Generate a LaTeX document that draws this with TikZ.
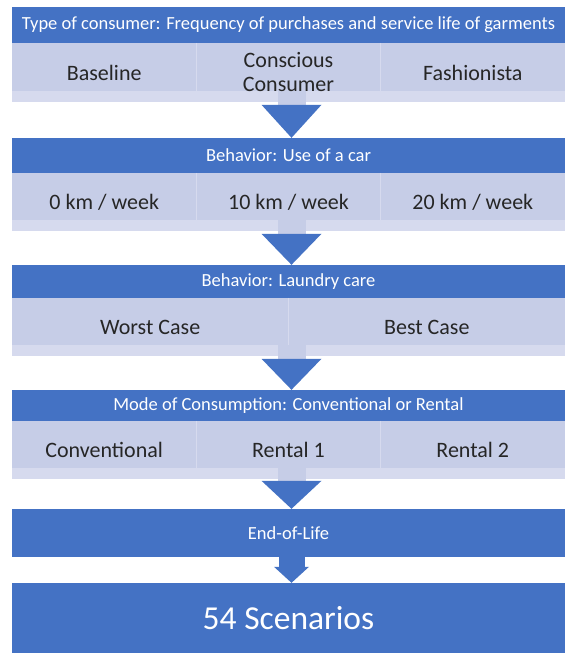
\documentclass[tikz,border=0pt]{standalone}
\usepackage{fontspec}
\setmainfont{Carlito}
\usetikzlibrary{calc}

\definecolor{barblue}{HTML}{4472C4}
\definecolor{cellblue}{HTML}{C6CDE7}
\definecolor{stripblue}{HTML}{D6DAEE}

\tikzset{
  hdr/.style={fill=barblue, text=white, minimum width=553pt, inner sep=0pt,
    font=\fontsize{18.5}{22}\selectfont},
  rowbox/.style={fill=cellblue, minimum width=553pt, inner sep=0pt,
    path picture={\fill[stripblue] ([yshift=11pt]path picture bounding box.south west)
      rectangle (path picture bounding box.south east);}},
  sepline/.style={draw=stripblue, line width=1pt},
  celltext/.style={text=black!85, align=center, inner sep=0pt,
    font=\fontsize{22}{24}\selectfont},
}

\begin{document}
\begin{tikzpicture}[x=1pt,y=-1pt]
  \useasboundingbox (0,0) rectangle (568,653);
  \fill[white] (0,0) rectangle (568,653);

  % bands
  \node[hdr, minimum height=36pt] (hdr1) at (288.5,25) {Type of consumer: Frequency of purchases and service life of garments};
  \node[rowbox, minimum height=59pt] (row1) at (288.5,72.5) {};
  \node[hdr, minimum height=35pt] (hdr2) at (288.5,155.5) {Behavior: Use of a car};
  \node[rowbox, minimum height=58pt] (row2) at (288.5,202) {};
  \node[hdr, minimum height=33pt] (hdr3) at (288.5,281.5) {Behavior: Laundry care};
  \node[rowbox, minimum height=58pt] (row3) at (288.5,327) {};
  \node[hdr, minimum height=31pt] (hdr4) at (288.5,405.5) {Mode of Consumption: Conventional or Rental};
  \node[rowbox, minimum height=58pt] (row4) at (288.5,450) {};
  \node[hdr, minimum height=48pt] (hdr5) at (288.5,533) {End-of-Life};
  \node[hdr, minimum height=70pt, font=\fontsize{33.5}{40}\selectfont] (final) at (288.5,618) {54 Scenarios};

  % column borders
  \foreach \r in {row1,row2,row4}{
    \draw[sepline] ($(\r.north west)!1/3!(\r.north east)$) -- ($(\r.south west)!1/3!(\r.south east)$);
    \draw[sepline] ($(\r.north west)!2/3!(\r.north east)$) -- ($(\r.south west)!2/3!(\r.south east)$);
  }
  \draw[sepline] (row3.north) -- (row3.south);

  % block arrows
  \fill[cellblue] ($(row1.south)+(-11,-11)$) rectangle ($(row1.south)+(17,3)$);
  \fill[barblue] ($(hdr2.north)+(-27,-33)$) -- ($(hdr2.north)+(33,-33)$) -- ($(hdr2.north)+(3,0)$) -- cycle;
  \fill[cellblue] ($(row2.south)+(-11,-11)$) rectangle ($(row2.south)+(17,3)$);
  \fill[barblue] ($(hdr3.north)+(-27,-31)$) -- ($(hdr3.north)+(33,-31)$) -- ($(hdr3.north)+(3,0)$) -- cycle;
  \fill[cellblue] ($(row3.south)+(-11,-11)$) rectangle ($(row3.south)+(17,3)$);
  \fill[barblue] ($(hdr4.north)+(-27,-31)$) -- ($(hdr4.north)+(33,-31)$) -- ($(hdr4.north)+(3,0)$) -- cycle;
  \fill[cellblue] ($(row4.south)+(-11,-12)$) rectangle ($(row4.south)+(17,2)$);
  \fill[barblue] ($(hdr5.north)+(-27,-28)$) -- ($(hdr5.north)+(33,-28)$) -- ($(hdr5.north)+(3,0)$) -- cycle;
  \fill[barblue] ($(hdr5.south)+(-10,0)$) rectangle ($(hdr5.south)+(16,10)$);
  \fill[barblue] ($(final.north)+(-14.5,-16)$) -- ($(final.north)+(20.5,-16)$) -- ($(final.north)+(3,0)$) -- cycle;

  % row texts
  \node[celltext] (baseline) at (104.2,72.5) {Baseline};
  \node[celltext] (conscious) at (288.5,72.5) {Conscious\\Consumer};
  \node[celltext] (fashion) at (472.8,72.5) {Fashionista};
  \node[celltext] (km0) at (104.2,202) {0 km / week};
  \node[celltext] (km10) at (288.5,202) {10 km / week};
  \node[celltext] (km20) at (472.8,202) {20 km / week};
  \node[celltext] (worst) at (150.2,327) {Worst Case};
  \node[celltext] (best) at (426.8,327) {Best Case};
  \node[celltext] (conv) at (104.2,450) {Conventional};
  \node[celltext] (rent1) at (288.5,450) {Rental 1};
  \node[celltext] (rent2) at (472.8,450) {Rental 2};
\end{tikzpicture}
\end{document}
